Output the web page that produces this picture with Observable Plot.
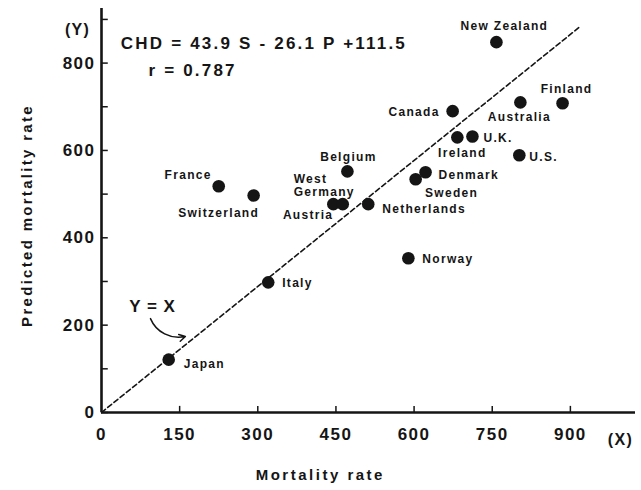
<!DOCTYPE html>
<html><head><meta charset="utf-8">
<script src="https://cdn.jsdelivr.net/npm/d3@7"></script>
<script src="https://cdn.jsdelivr.net/npm/@observablehq/plot@0.6"></script>
<style>
body{margin:0;background:#fff}
svg{font-family:"Liberation Sans",Arial,sans-serif}
</style>
</head><body><div id="chart"></div>
<script>
const countries = ["Japan","Italy","France","Switzerland","Austria","West Germany","Netherlands","Belgium","Sweden","Denmark","Ireland","U.K.","Canada","U.S.","Australia","Finland","New Zealand","Norway"];
const mortality = [129,320,225,292,445,463,512,472,603,622,683,712,674,802,804,885,758,589];
const predicted = [121,298,518,497,477,477,477,552,534,550,630,632,690,589,710,708,848,353];
const xTicks = [0,150,300,450,600,750,900];
const yTicks = [0,200,400,600,800];
const yMinorTicks = [100,300,500,700,900];
const identityLine = [[0,0],[917,882]];
const equationText = "CHD = 43.9 S - 26.1 P +111.5";
const rText = "r = 0.787";
const identityLabel = "Y = X";
const xTitle = "Mortality rate";
const yTitle = "Predicted mortality rate";

// label layout (pixel offsets from each dot)
const labelLayout = {
  "Japan": {a:"start", dx:15, dy:4},
  "Italy": {a:"start", dx:14, dy:0},
  "France": {a:"end", dx:-7, dy:-12},
  "Switzerland": {a:"middle", dx:-35, dy:17},
  "Austria": {a:"end", dx:0, dy:10},
  "West Germany": {a:"start", dx:-49, dy:-19, t:"West\nGermany"},
  "Netherlands": {a:"start", dx:14, dy:4},
  "Belgium": {a:"middle", dx:1, dy:-15},
  "Sweden": {a:"middle", dx:36, dy:13},
  "Denmark": {a:"start", dx:13, dy:2},
  "Ireland": {a:"middle", dx:5, dy:15},
  "U.K.": {a:"start", dx:11, dy:1},
  "Canada": {a:"end", dx:-13, dy:0},
  "U.S.": {a:"start", dx:10, dy:1},
  "Australia": {a:"middle", dx:-1, dy:14},
  "Finland": {a:"middle", dx:4, dy:-15},
  "New Zealand": {a:"middle", dx:8, dy:-17},
  "Norway": {a:"start", dx:14, dy:0}
};

const data = countries.map((c,i) => ({country:c, x:mortality[i], y:predicted[i]}));
const ink = "#151515";

const labelMarks = ["start","middle","end"].map(anchor => Plot.text(
  data.filter(d => labelLayout[d.country].a === anchor), {
    x:"x", y:"y", text: d => labelLayout[d.country].t || d.country,
    textAnchor: anchor, fontSize: 12, fontWeight: "bold", fill: ink, lineHeight: 1.15,
    dx: d => 0, dy: d => 0
  }));

// Plot's dx/dy are constants, so build one text mark per country
const perLabel = data.map(d => {
  const L = labelLayout[d.country];
  return Plot.text([d], {x:"x", y:"y", text: () => L.t || d.country, textAnchor: L.a,
    dx: L.dx, dy: L.dy, fontSize: 12, fontWeight: "bold", fill: ink, lineHeight: 1.15});
});

const chart = Plot.plot({
  width: 641, height: 490,
  marginLeft: 101, marginRight: 6, marginTop: 8, marginBottom: 78,
  x: {domain: [0, 1025]},
  y: {domain: [0, 925]},
  style: {background: "#fff", color: ink, overflow: "visible"},
  marks: [
    Plot.line(identityLine, {x: d => d[0], y: d => d[1], stroke: ink, strokeWidth: 1.6, strokeDasharray: "5,3"}),
    Plot.ruleX([0], {stroke: ink, strokeWidth: 2.6}),
    Plot.ruleY([0], {stroke: ink, strokeWidth: 2.6}),
    Plot.ruleY(yTicks.concat(yMinorTicks), {x1: 0, x2: 13, stroke: ink, strokeWidth: 1.5}),
    Plot.ruleX(xTicks.slice(1), {y1: 0, y2: 14, stroke: ink, strokeWidth: 1.5}),
    Plot.axisX({ticks: xTicks, tickSize: 0, tickPadding: 15, fontSize: 17, fontWeight: "bold", label: null}),
    Plot.axisY({ticks: yTicks, tickSize: 0, tickPadding: 6, fontSize: 17, fontWeight: "bold", label: null}),
    Plot.dot(data, {x:"x", y:"y", r: 6.3, fill: ink, stroke: "none"}),
    ...perLabel,
    Plot.text([equationText], {x: 37, y: 845, text: d => d, textAnchor: "start", fontSize: 17, fontWeight: "bold", fill: ink}),
    Plot.text([rText], {x: 90, y: 783, text: d => d, textAnchor: "start", fontSize: 17, fontWeight: "bold", fill: ink}),
    Plot.text(["(Y)"], {x: -46, y: 875, text: d => d, fontSize: 16, fontWeight: "bold", fill: ink}),
    Plot.text(["(X)"], {x: 996, y: -62, text: d => d, fontSize: 16, fontWeight: "bold", fill: ink}),
    Plot.text([identityLabel], {x: 98, y: 243, text: d => d, fontSize: 17, fontWeight: "bold", fill: ink}),
    Plot.arrow([{x1: 94, y1: 215, x2: 161, y2: 174}], {x1:"x1", y1:"y1", x2:"x2", y2:"y2", bend: -40, stroke: ink, strokeWidth: 1.5, headLength: 7}),
    Plot.text([xTitle], {x: 420, y: -144, text: d => d, fontSize: 15, fontWeight: "bold", fill: ink}),
    Plot.text([yTitle], {x: -142, y: 451, text: d => d, rotate: -90, fontSize: 15, fontWeight: "bold", fill: ink})
  ]
});

// letter spacing to mimic the typewriter-like spacing of the original
d3.select(chart).selectAll("text").each(function() {
  const t = this.textContent;
  let ls = 1.3;
  if (t === equationText) ls = 2.2;
  else if (t === rText) ls = 2.2;
  else if (t === xTitle) ls = 2.5;
  else if (t === yTitle) ls = 2.3;
  else if (/^\d+$/.test(t)) ls = 1.5;
  else if (t === identityLabel) ls = 1;
  d3.select(this).style("letter-spacing", ls + "px");
});

document.getElementById("chart").appendChild(chart);
</script>
</body></html>
